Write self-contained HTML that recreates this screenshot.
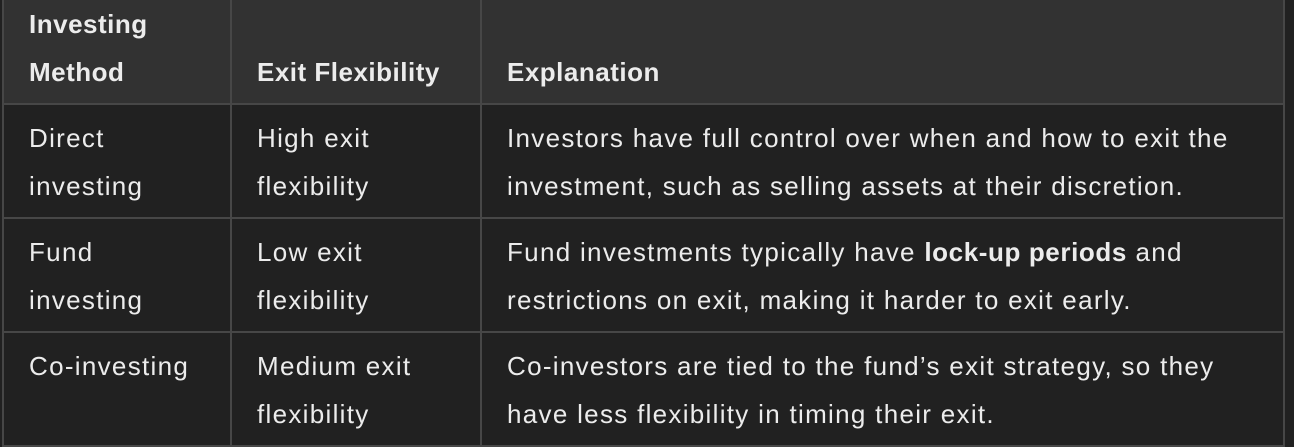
<!DOCTYPE html>
<html><head><meta charset="utf-8"><style>
html,body{margin:0;padding:0;background:#212121;width:1294px;height:436px;overflow:hidden}
table{position:absolute;left:2px;top:-11px;border-collapse:collapse;font-family:"Liberation Sans",sans-serif;font-size:26px;letter-spacing:1.3px;color:#ececec;line-height:48px;width:1283px;table-layout:fixed}
td,th{border:2px solid #474747;padding:9px 10px 7px 25px;text-align:left;vertical-align:top;white-space:nowrap}
th{background:#323232;font-weight:bold;vertical-align:bottom;padding-bottom:7px;letter-spacing:0.5px}
td{background:#212121}
tr.b td{height:96px}
</style></head><body>
<table>
<colgroup><col style="width:228px"><col style="width:250px"><col></colgroup>
<tr>
<th>Investing<br>Method</th>
<th>Exit Flexibility</th>
<th>Explanation</th></tr>
<tr class="b">
<td>Direct<br>investing</td>
<td>High exit<br>flexibility</td>
<td>Investors have full control over when and how to exit the<br>investment, such as selling assets at their discretion.</td></tr>
<tr class="b">
<td>Fund<br>investing</td>
<td>Low exit<br>flexibility</td>
<td>Fund investments typically have <b style="letter-spacing:0.6px">lock-up periods</b> and<br>restrictions on exit, making it harder to exit early.</td></tr>
<tr class="b">
<td>Co-investing</td>
<td>Medium exit<br>flexibility</td>
<td>Co-investors are tied to the fund’s exit strategy, so they<br>have less flexibility in timing their exit.</td></tr>
</table>
</body></html>
